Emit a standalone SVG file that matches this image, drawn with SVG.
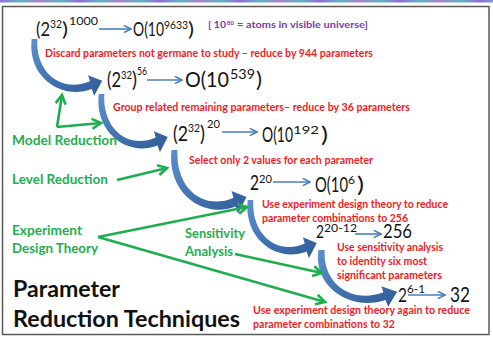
<svg xmlns="http://www.w3.org/2000/svg" xmlns:xlink="http://www.w3.org/1999/xlink" width="493" height="339" viewBox="0 0 493 339">
  <style>
    text { font-family: Lato, "Liberation Sans", sans-serif; }
    .m { fill: #141414; }
    .r { font-size: 10.5px; font-weight: bold; fill: #ee1d25; }
    .g { font-weight: bold; fill: #1fae4f; }
    .p { font-size: 8.5px; font-weight: bold; fill: #7a3aa8; }
    .t { font-size: 23px; font-weight: bold; fill: #111; }
    .blue { stroke: #4a7ebb; stroke-width: 1.6; fill: none; marker-end: url(#bh); }
    .green { stroke: #1fae4f; stroke-width: 2.6; fill: none; marker-end: url(#gh); }
  </style>
  <defs>
    <linearGradient id="strip" x1="0" y1="0" x2="40" y2="0" gradientUnits="userSpaceOnUse" spreadMethod="reflect">
      <stop offset="0" stop-color="#8f6fd8"/>
      <stop offset="0.5" stop-color="#5fb7c0"/>
      <stop offset="1" stop-color="#a77fd0"/>
    </linearGradient>
    <linearGradient id="swoosh" x1="0" y1="0" x2="1" y2="1">
      <stop offset="0" stop-color="#5d8fcf"/>
      <stop offset="0.6" stop-color="#3d6dab"/>
      <stop offset="1" stop-color="#2f5d98"/>
    </linearGradient>
    <marker id="bh" viewBox="0 0 10 10" refX="9" refY="5" markerWidth="9" markerHeight="9" markerUnits="userSpaceOnUse" orient="auto">
      <path d="M1,1 L9,5 L1,9" fill="none" stroke="#4a7ebb" stroke-width="1.8"/>
    </marker>
    <marker id="gh" viewBox="-2 -2 14 14" refX="9" refY="5" markerWidth="14" markerHeight="14" markerUnits="userSpaceOnUse" orient="auto">
      <path d="M0,0 L9,5 L0,10" fill="none" stroke="#1fae4f" stroke-width="2.6"/>
    </marker>
    <!-- curved block arrow, tail at the origin, tip at (72,38) -->
    <path id="curve" d="M3,0 L-3,0 C-8,34 28,56 61,45.5 L63.5,51.5 L72,38 L57,33 L59,38.5 C30,49 1,32 3,0 Z" fill="url(#swoosh)"/>
  </defs>

  <rect width="493" height="339" fill="#fff"/>
  <rect x="0" y="0" width="493" height="2.5" fill="url(#strip)"/>
  <rect x="2.5" y="6.5" width="486.5" height="328" fill="none" stroke="#5a5a5a" stroke-width="1.5"/>

  <!-- curved step arrows -->
  <g id="steps">
    <use xlink:href="#curve" transform="translate(34.5,39) scale(0.94,1.1)"/>
    <use xlink:href="#curve" transform="translate(101.5,94) scale(0.92,1.13)"/>
    <use xlink:href="#curve" transform="translate(174.5,150) scale(1.0,1.24)"/>
    <use xlink:href="#curve" transform="translate(250.5,200) scale(0.92,1.13)"/>
    <use xlink:href="#curve" transform="translate(321.5,250) scale(1.05,1.1)"/>
  </g>

  <!-- connectors -->
  <g id="connectors">
    <path class="blue" d="M99,29 L131,29"/>
    <path class="blue" d="M147,80 L182,80"/>
    <path class="blue" d="M222,132 L257,132"/>
    <path class="blue" d="M273,182 L310,182"/>
    <path class="blue" d="M355,234 L381,234"/>
    <path class="blue" d="M408,295 L445,295"/>
    <path class="green" d="M57,127 L62,95"/>
    <path class="green" d="M57,127 L101,123"/>
    <path class="green" d="M117,180 L167,168"/>
    <path class="green" d="M98,237 L247,207"/>
    <path class="green" d="M98,237 L325,302"/>
    <path class="green" d="M235,254 L322,273"/>
  </g>

  <g id="full">
    <text class="m" font-size="20"><tspan x="36" y="36" textLength="14" lengthAdjust="spacingAndGlyphs">(2</tspan><tspan x="50" y="28" font-size="11" textLength="12" lengthAdjust="spacingAndGlyphs">32</tspan><tspan x="62" y="36" textLength="6" lengthAdjust="spacingAndGlyphs">)</tspan><tspan x="69" y="25" font-size="12" textLength="29" lengthAdjust="spacingAndGlyphs">1000</tspan></text>
    <text class="m" font-size="20"><tspan x="133" y="36" textLength="31" lengthAdjust="spacingAndGlyphs">O(10</tspan><tspan x="164" y="29" font-size="12" textLength="24" lengthAdjust="spacingAndGlyphs">9633</tspan><tspan x="188" y="36" textLength="6" lengthAdjust="spacingAndGlyphs">)</tspan></text>
    <text class="p"><tspan x="208" y="28" textLength="18" lengthAdjust="spacingAndGlyphs">[ 10</tspan><tspan x="227" y="25" font-size="6" textLength="7" lengthAdjust="spacingAndGlyphs">80</tspan><tspan x="237" y="28" textLength="131" lengthAdjust="spacingAndGlyphs">= atoms in visible universe]</tspan></text>
  </g>
  <text class="r" x="45" y="57" textLength="328" lengthAdjust="spacingAndGlyphs">Discard parameters not germane to study – reduce by 944 parameters</text>

  <g id="model">
    <text class="m" font-size="22"><tspan x="107" y="87" textLength="14" lengthAdjust="spacingAndGlyphs">(2</tspan><tspan x="121" y="79" font-size="12" textLength="11" lengthAdjust="spacingAndGlyphs">32</tspan><tspan x="132" y="87" textLength="5" lengthAdjust="spacingAndGlyphs">)</tspan><tspan x="137" y="75" font-size="12" textLength="10" lengthAdjust="spacingAndGlyphs">56</tspan></text>
    <text class="m" font-size="22"><tspan x="185" y="87" textLength="44" lengthAdjust="spacingAndGlyphs">O(10</tspan><tspan x="230" y="79" font-size="13" textLength="25" lengthAdjust="spacingAndGlyphs">539</tspan><tspan x="256" y="87" textLength="6" lengthAdjust="spacingAndGlyphs">)</tspan></text>
  </g>
  <text class="r" x="113" y="111" textLength="297" lengthAdjust="spacingAndGlyphs">Group related remaining parameters– reduce by 36 parameters</text>

  <g id="grouped">
    <text class="m" font-size="21"><tspan x="173" y="141" textLength="15" lengthAdjust="spacingAndGlyphs">(2</tspan><tspan x="188" y="132" font-size="12" textLength="12" lengthAdjust="spacingAndGlyphs">32</tspan><tspan x="200" y="141" textLength="5" lengthAdjust="spacingAndGlyphs">)</tspan><tspan x="207" y="128" font-size="12" textLength="13" lengthAdjust="spacingAndGlyphs">20</tspan></text>
    <text class="m" font-size="21"><tspan x="262" y="142" textLength="31" lengthAdjust="spacingAndGlyphs">O(10</tspan><tspan x="293" y="134" font-size="12" textLength="26" lengthAdjust="spacingAndGlyphs">192</tspan><tspan x="321" y="142" textLength="7" lengthAdjust="spacingAndGlyphs">)</tspan></text>
  </g>
  <text class="r" x="189" y="164" textLength="184" lengthAdjust="spacingAndGlyphs">Select only 2 values for each parameter</text>

  <g id="levels">
    <text class="m" font-size="21"><tspan x="250" y="190" textLength="9" lengthAdjust="spacingAndGlyphs">2</tspan><tspan x="259" y="183" font-size="12" textLength="13" lengthAdjust="spacingAndGlyphs">20</tspan></text>
    <text class="m" font-size="22"><tspan x="315" y="192" textLength="33" lengthAdjust="spacingAndGlyphs">O(10</tspan><tspan x="348" y="184" font-size="12" textLength="7" lengthAdjust="spacingAndGlyphs">6</tspan><tspan x="357" y="192" textLength="7" lengthAdjust="spacingAndGlyphs">)</tspan></text>
  </g>
  <text class="r" x="262" y="208" textLength="186" lengthAdjust="spacingAndGlyphs">Use experiment design theory to reduce</text>
  <text class="r" x="262" y="222" textLength="146" lengthAdjust="spacingAndGlyphs">parameter combinations to 256</text>

  <g id="design">
    <text class="m" font-size="18"><tspan x="316" y="238" textLength="8" lengthAdjust="spacingAndGlyphs">2</tspan><tspan x="324" y="232" font-size="11" textLength="33" lengthAdjust="spacingAndGlyphs">20-12</tspan></text>
    <text class="m" x="383" y="238" font-size="19" textLength="29" lengthAdjust="spacingAndGlyphs">256</text>
  </g>
  <text class="r" x="337" y="251" textLength="106" lengthAdjust="spacingAndGlyphs">Use sensitivity analysis</text>
  <text class="r" x="337" y="265" textLength="90" lengthAdjust="spacingAndGlyphs">to identity six most</text>
  <text class="r" x="337" y="279" textLength="105" lengthAdjust="spacingAndGlyphs">significant parameters</text>

  <g id="final">
    <text class="m" font-size="19"><tspan x="398" y="302" textLength="9" lengthAdjust="spacingAndGlyphs">2</tspan><tspan x="407" y="293" font-size="11" textLength="18" lengthAdjust="spacingAndGlyphs">6-1</tspan></text>
    <text class="m" x="450" y="302" font-size="21" textLength="20" lengthAdjust="spacingAndGlyphs">32</text>
  </g>
  <text class="r" x="253" y="314" textLength="217" lengthAdjust="spacingAndGlyphs">Use experiment design theory again to reduce</text>
  <text class="r" x="253" y="328" textLength="142" lengthAdjust="spacingAndGlyphs">parameter combinations to 32</text>

  <g id="techniques">
    <text class="g" x="12" y="145" font-size="14" textLength="105" lengthAdjust="spacingAndGlyphs">Model Reduction</text>
    <text class="g" x="12" y="184" font-size="14" textLength="96" lengthAdjust="spacingAndGlyphs">Level Reduction</text>
    <text class="g" x="12" y="235" font-size="12.5" textLength="70" lengthAdjust="spacingAndGlyphs">Experiment</text>
    <text class="g" x="12" y="253" font-size="12.5" textLength="86" lengthAdjust="spacingAndGlyphs">Design Theory</text>
    <text class="g" x="185" y="238" font-size="12.5" textLength="60" lengthAdjust="spacingAndGlyphs">Sensitivity</text>
    <text class="g" x="185" y="256" font-size="12.5" textLength="48" lengthAdjust="spacingAndGlyphs">Analysis</text>
  </g>

  <g id="title">
    <text class="t" x="13" y="297" textLength="107" lengthAdjust="spacingAndGlyphs">Parameter</text>
    <text class="t" x="13" y="327" textLength="227" lengthAdjust="spacingAndGlyphs">Reduction Techniques</text>
  </g>
</svg>
